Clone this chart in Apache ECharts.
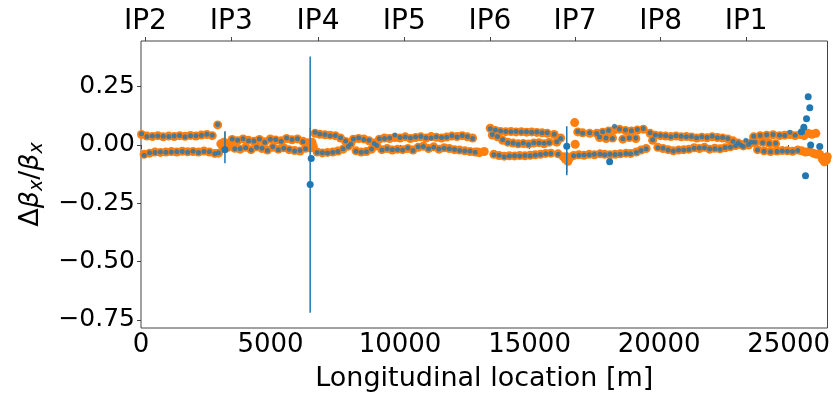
<!DOCTYPE html>
<html><head><meta charset="utf-8">
<script src="https://cdn.jsdelivr.net/npm/echarts@6/dist/echarts.min.js"></script>
<style>html,body{margin:0;padding:0;background:#fff}#c{width:833px;height:397px}</style>
</head><body><div id="c"></div>
<script>
// ---- axis data ----
const ipNames = ['IP2','IP3','IP4','IP5','IP6','IP7','IP8','IP1'];
const ipPos = [170, 3485, 6835, 10165, 13470, 16755, 20060, 23360];
const yTickVals = [-0.75, -0.5, -0.25, 0, 0.25];
const xMin = 0, xMax = 26500, xStep = 5000;
const yMin = -0.785, yMax = 0.446;

// ---- BPMs with both model (orange) and measurement (blue) ----
const bpmPos = [
  20,120,230,330,440,540,650,750,860,960,1070,1170,1280,1380,1490,1590,1700,1800,1910,2010,2120,2220,2330,2430,2540,2640,2750,2850,2960,2990,
  3520,3620,3730,3830,3940,4040,4150,4250,4360,4460,4570,4670,4780,4880,4990,5090,5200,5300,5410,5510,5620,5720,5830,5930,6040,6140,6250,6350,
  6720,6800,6900,7000,7100,7200,7300,7400,7500,7600,7700,7800,7900,8000,8100,8200,8300,8400,8500,8600,8700,8800,8900,9000,9100,9200,9300,9400,9500,9600,9700,9800,9900,10000,10100,10200,10300,10400,10500,
  10600,10700,10800,10900,11000,11100,11200,11300,11400,11500,11600,11700,11800,11900,12000,12100,12200,12300,12400,12500,12600,12700,12800,12900,
  13480,13560,13620,13680,13760,13820,13880,13960,14020,14080,14160,14220,14280,14360,14420,14480,14560,14620,14680,14760,14820,14880,14960,15020,15080,15160,15220,15280,15360,15420,15480,15560,15620,15680,15760,15820,
  15950,16050,16100,16200,
  16700,16860,16900,17050,17100,17300,17320,17500,17590,17700,17720,17820,17900,17950,18050,18100,18200,18280,18300,18470,18500,18600,18700,18720,18850,18900,18930,19100,19120,19160,19300,19390,19500,
  19650,19750,19850,19950,20050,20150,20250,20350,20450,20550,20650,20750,20850,20950,21050,21150,
  21250,21350,21450,21550,21650,21750,21850,21950,22050,22150,22250,22350,22450,22550,22650,22750,22850,22950,
  23050,23150,23250,23350,23450,23550,
  23650,23700,23800,23900,24000,24050,24150,24250,24300,24400,24500,24550,24650,24750,24850,24950,25050,25150,25250,25350
];
const modelVals = [
  .045,-.040,.038,-.035,.036,-.030,.040,-.032,.035,-.030,.038,-.028,.036,-.030,.040,-.027,.037,-.029,.041,-.028,.038,-.030,.043,-.026,.045,-.030,.040,-.036,.086,-.035,
  .024,-.014,.018,-.018,.026,-.010,.020,-.020,.016,-.008,.024,-.015,.014,-.022,.026,-.010,.021,-.018,.018,-.012,.028,-.020,.022,-.024,.026,-.026,.016,-.014,
  .050,-.030,.046,-.034,.044,-.032,.042,-.030,.040,-.026,.030,-.018,.015,-.005,.006,.025,-.025,.028,-.030,.026,-.028,.018,-.018,.008,-.004,.025,-.020,.030,-.015,.028,-.022,.032,-.018,.030,-.020,.035,-.015,.028,-.022,
  .032,-.010,.035,-.005,.030,-.015,.036,-.008,.033,-.018,.030,-.012,.034,-.015,.038,-.020,.036,-.022,.040,-.025,.035,-.028,.030,-.030,
  .072,.043,-.040,.062,.035,-.045,.058,.020,-.048,.057,.012,-.046,.058,.008,-.047,.056,.005,-.045,.057,.006,-.046,.055,.004,-.044,.056,.008,-.042,.054,.010,-.040,.052,.005,-.036,.050,.012,-.035,
  .045,.012,-.038,.030,
  -.045,.056,-.042,.052,-.044,-.040,.050,-.042,.050,.032,-.038,.055,-.040,.028,.060,-.042,.030,.065,-.040,.068,-.038,.025,.062,-.035,.032,-.036,.060,.028,-.030,.064,-.022,.068,-.015,
  .050,.020,.042,-.010,.040,-.015,.038,-.020,.036,-.025,.038,-.022,.035,-.020,.036,-.018,
  .034,-.012,.030,-.015,.033,-.010,.031,-.018,.035,-.014,.032,-.016,.030,-.012,.026,-.008,.018,-.002,
  .008,.002,-.004,.006,.000,.010,
  .035,.010,-.020,.040,.012,-.025,.042,.008,-.028,.044,.005,-.026,.040,-.024,.042,-.025,.045,-.027,.040,-.022
];
const measVals = [
  .048,-.044,.036,-.033,.038,-.032,.039,-.030,.037,-.031,.036,-.030,.038,-.029,.041,-.028,.035,-.031,.040,-.027,.040,-.032,.042,-.028,.046,-.029,.042,-.038,.088,-.033,
  .026,-.016,.020,-.016,.027,-.012,.018,-.022,.017,-.010,.026,-.014,.012,-.024,.025,-.008,.023,-.020,.016,-.014,.030,-.018,.024,-.026,.027,-.024,.014,-.016,
  .055,-.032,.047,-.033,.045,-.034,.040,-.031,.041,-.028,.031,-.016,.017,-.006,.004,.026,-.027,.030,-.031,.024,-.029,.020,-.017,.006,-.002,.027,-.021,.028,-.016,.030,-.020,.043,-.019,.032,-.022,.034,-.013,.030,-.024,
  .034,-.008,.036,-.007,.031,-.016,.030,-.010,.035,-.017,.032,-.014,.033,-.016,.040,-.019,.034,-.024,.041,-.026,.036,-.027,.028,-.031,
  .070,.045,-.042,.064,.036,-.044,.060,.022,-.050,.058,.010,-.047,.057,.009,-.046,.058,.003,-.047,.056,.008,-.045,.057,.002,-.046,.055,.010,-.043,.056,.008,-.041,.053,.007,-.038,.052,.010,-.036,
  .046,.014,-.040,.028,
  -.046,.058,-.044,.050,-.043,-.042,.052,-.040,.049,.034,-.039,.057,-.042,.030,.062,-.040,.028,.080,-.041,.069,-.040,.027,.064,-.036,.030,-.038,.061,.030,-.032,.066,-.024,.071,-.016,
  .052,.022,.043,-.012,.041,-.014,.040,-.022,.035,-.026,.040,-.021,.037,-.022,.035,-.019,
  .036,-.014,.031,-.013,.035,-.012,.032,-.017,.037,-.016,.031,-.018,.032,-.011,.028,-.010,.016,-.003,
  .010,.000,-.006,.020,.002,.012,
  .037,.012,-.022,.041,.010,-.027,.044,.006,-.029,.045,.007,-.028,.042,-.026,.041,-.027,.055,-.028,.042,-.024
];

// ---- model-only points (orange) in the insertion regions ----
const modelOnlyPos = [3080,3150,3200,3240,3290,3350,3420, 6430,6480,6530,6560,6600,6650, 13000,13060,13250,
  16300,16380,16435,16480,16550,16740,16760,
  25450,25500,25600,25650,25750,25800,25900,25950,26050,26080,26200,26300,26380,26420,26460,26490];
const modelOnlyVals = [.005,-.005,.012,.005,.002,-.010,.008, .010,-.008,.005,-.012,.012,-.006, -.030,-.033,-.028,
  -.050,-.060,-.050,-.070,-.055,.096,.003,
  .045,-.025,.040,-.030,.050,-.028,.046,-.035,.050,-.040,-.040,-.060,-.072,-.055,-.065,-.050];

// ---- measurement-only points (blue) ----
const measOnlyPos = [3240, 6530, 6570, 16435, 18090, 25498, 25586, 25651, 25690, 25755, 25816, 25850, 26200];
const measOnlyVals = [-.020, -.170, -.058, -.005, -.072, .057, .076, -.132, .112, .207, .160, .000, -.007];

// ---- error bars ----
const measErrPos = [3240, 6530, 16435];
const measErrLow = [-.078, -.720, -.130];
const measErrHigh = [.057, .380, .080];
const modelErrPos = [3240, 6530, 16435];
const modelErrLow = [.000, -.020, -.120];
const modelErrHigh = [.060, .073, -.030];

const BLUE = '#1f77b4', ORANGE = '#ff7f0e';
const FONT = 'DejaVu Sans';

function pairs(xs, ys) { return xs.map((x, i) => [x, ys[i]]); }
function triples(xs, lo, hi) { return xs.map((x, i) => [x, lo[i], hi[i]]); }
function fmtY(v) {
  const a = Math.abs(v).toFixed(2);
  return (v < -1e-9 ? '\u2212' : '') + a;
}
function errRender(color, width) {
  return function (params, api) {
    const p1 = api.coord([api.value(0), api.value(1)]);
    const p2 = api.coord([api.value(0), api.value(2)]);
    return { type: 'line', shape: { x1: p1[0], y1: p1[1], x2: p2[0], y2: p2[1] },
      style: { stroke: color, lineWidth: width } };
  };
}

const chart = echarts.init(document.getElementById('c'), null, { renderer: 'canvas' });
chart.setOption({
  animation: false,
  backgroundColor: '#fff',
  grid: { left: 141, right: 3, top: 41, bottom: 69, show: true, borderColor: '#444', borderWidth: 1, backgroundColor: 'transparent' },
  xAxis: [
    { type: 'value', position: 'bottom', min: xMin, max: xMax, interval: xStep,
      axisLine: { show: false }, splitLine: { show: false },
      axisTick: { show: true, length: 4, lineStyle: { color: '#444' } },
      axisLabel: { fontFamily: FONT, fontSize: 26, color: '#000', margin: 4, showMaxLabel: false,
        formatter: function (v) { return String(v); } },
      name: 'Longitudinal location [m]', nameLocation: 'middle', nameGap: 37,
      nameTextStyle: { fontFamily: FONT, fontSize: 27, color: '#000' } },
    { type: 'value', position: 'top', min: xMin, max: xMax,
      axisLine: { show: false }, splitLine: { show: false },
      axisTick: { show: true, length: 4, lineStyle: { color: '#444' }, customValues: ipPos },
      axisLabel: { fontFamily: FONT, fontSize: 28, color: '#000', margin: 5, customValues: ipPos,
        formatter: function (v) {
          let best = 0, d = Infinity;
          ipPos.forEach((p, i) => { if (Math.abs(p - v) < d) { d = Math.abs(p - v); best = i; } });
          return ipNames[best];
        } } }
  ],
  yAxis: [{
    type: 'value', min: yMin, max: yMax,
    axisLine: { show: false }, splitLine: { show: false },
    axisTick: { show: true, length: 4, lineStyle: { color: '#444' }, customValues: yTickVals },
    axisLabel: { fontFamily: FONT, fontSize: 25, color: '#000', margin: 6, customValues: yTickVals, formatter: fmtY },
    name: '{a|\u0394}{b|\u03B2}{c|x}{a|/}{b|\u03B2}{c|x}', nameLocation: 'middle', nameGap: 94, nameRotate: 90,
    nameTextStyle: { color: '#000', rich: {
      a: { fontFamily: FONT, fontSize: 27, color: '#000' },
      b: { fontFamily: FONT, fontSize: 27, fontStyle: 'italic', color: '#000' },
      c: { fontFamily: FONT, fontSize: 19, fontStyle: 'italic', color: '#000', padding: [13, 0, 0, 0] }
    } }
  }],
  series: [
    { type: 'scatter', name: 'model', data: pairs(bpmPos, modelVals), symbolSize: 9,
      itemStyle: { color: ORANGE, opacity: 1 }, z: 2, silent: true },
    { type: 'scatter', name: 'modelOnly', data: pairs(modelOnlyPos, modelOnlyVals), symbolSize: 9,
      itemStyle: { color: ORANGE, opacity: 1 }, z: 2, silent: true },
    { type: 'custom', name: 'modelErr', data: triples(modelErrPos, modelErrLow, modelErrHigh),
      renderItem: errRender(ORANGE, 1.5), z: 3, silent: true },
    { type: 'custom', name: 'measErr', data: triples(measErrPos, measErrLow, measErrHigh),
      renderItem: errRender(BLUE, 1.5), z: 4, silent: true },
    { type: 'scatter', name: 'meas', data: pairs(bpmPos, measVals), symbolSize: 5,
      itemStyle: { color: BLUE, opacity: 0.8 }, z: 5, silent: true },
    { type: 'scatter', name: 'measOnly', data: pairs(measOnlyPos, measOnlyVals), symbolSize: 7,
      itemStyle: { color: BLUE, opacity: 1 }, z: 5, silent: true }
  ]
});
</script>
</body></html>
